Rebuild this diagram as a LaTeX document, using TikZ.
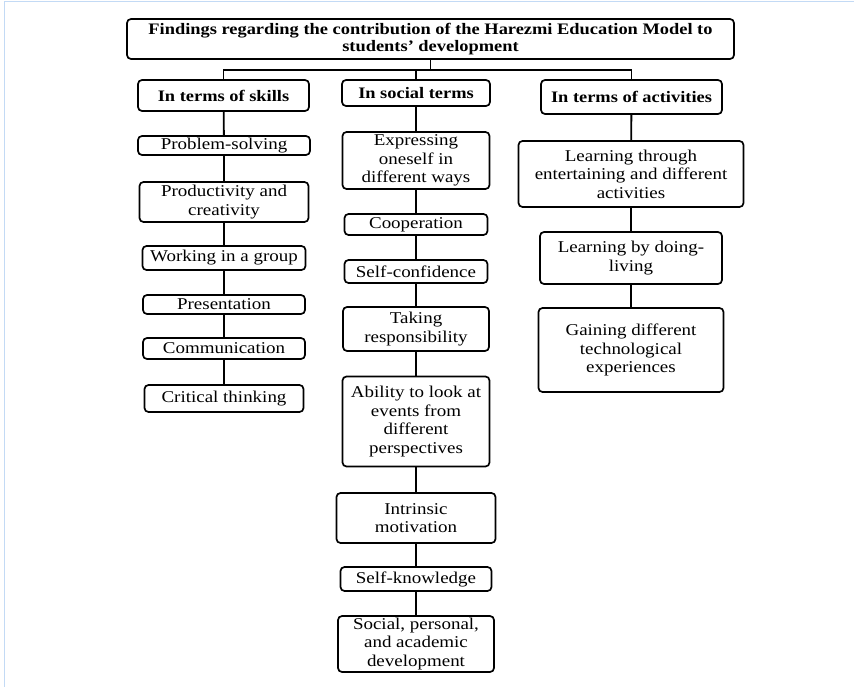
\documentclass[tikz,border=0pt]{standalone}
\usepackage{fontspec}
\setmainfont[FakeStretch=1.15]{Liberation Serif}
\begin{document}
\begin{tikzpicture}[x=1pt,y=-1pt,
  box/.style={draw, line width=1.7pt, rounded corners=4pt, align=center, inner sep=0pt,
    font=\fontsize{16.5}{18.5}\selectfont},
  hbox/.style={box, font=\fontsize{16}{17}\selectfont\bfseries},
  link/.style={line width=1.8pt}]
\useasboundingbox (0,0) rectangle (854,687);
\definecolor{edge}{RGB}{195,218,245}
\draw[edge, line width=1.6pt] (4.5,687) -- (4.5,1.5) -- (854,1.5);
% header
\node[hbox, minimum width=607, minimum height=40] (title) at (430.5,39) {Findings regarding the contribution of the Harezmi Education Model to\\students' development};
\node[hbox, minimum width=171, minimum height=31] (skills) at (223.5,95.5) {In terms of skills};
\node[hbox, minimum width=148, minimum height=26] (social) at (416,93) {In social terms};
\node[hbox, minimum width=181, minimum height=34] (acts) at (631.5,97) {In terms of activities};
% left column
\node[box, minimum width=172, minimum height=19] (ps) at (224,145.5) {Problem-solving};
\node[box, minimum width=169, minimum height=40] (prod) at (224,202) {Productivity and\\creativity};
\node[box, minimum width=163, minimum height=24] (work) at (224,258) {Working in a group};
\node[box, minimum width=162, minimum height=19] (pres) at (224,304.5) {Presentation};
\node[box, minimum width=162, minimum height=21] (comm) at (224,348.5) {Communication};
\node[box, minimum width=159, minimum height=27] (crit) at (224,398.5) {Critical thinking};
% middle column
\node[box, minimum width=147, minimum height=57] (expr) at (416,160.5) {Expressing\\oneself in\\different ways};
\node[box, minimum width=143, minimum height=21] (coop) at (416,224.5) {Cooperation};
\node[box, minimum width=143, minimum height=23] (conf) at (416,271.5) {Self-confidence};
\node[box, minimum width=146, minimum height=44] (take) at (416,329) {Taking\\responsibility};
\node[box, minimum width=147, minimum height=90] (abil) at (416,421.5) {Ability to look at\\events from\\different\\perspectives};
\node[box, minimum width=159, minimum height=50] (intr) at (416,518) {Intrinsic\\motivation};
\node[box, minimum width=151, minimum height=24] (know) at (416,579) {Self-knowledge};
\node[box, minimum width=156, minimum height=56] (dev) at (416,644) {Social, personal,\\and academic\\development};
% right column
\node[box, minimum width=225, minimum height=66] (lt) at (631,174) {Learning through\\entertaining and different\\activities};
\node[box, minimum width=182, minimum height=52] (ld) at (631,258) {Learning by doing-\\living};
\node[box, minimum width=185, minimum height=84] (gain) at (631,350) {Gaining different\\technological\\experiences};
% connectors
\draw[link] (title.south) -- ++(0,10) coordinate (bus);
\draw[link] (skills.north) |- (bus) -| (acts.north);
\draw[link] (social.north) -- (social.north |- bus);
\draw[link] (skills) -- (ps) -- (prod) -- (work) -- (pres) -- (comm) -- (crit);
\draw[link] (social) -- (expr) -- (coop) -- (conf) -- (take) -- (abil) -- (intr) -- (know) -- (dev);
\draw[link] (acts) -- (lt) -- (ld) -- (gain);
\end{tikzpicture}
\end{document}
